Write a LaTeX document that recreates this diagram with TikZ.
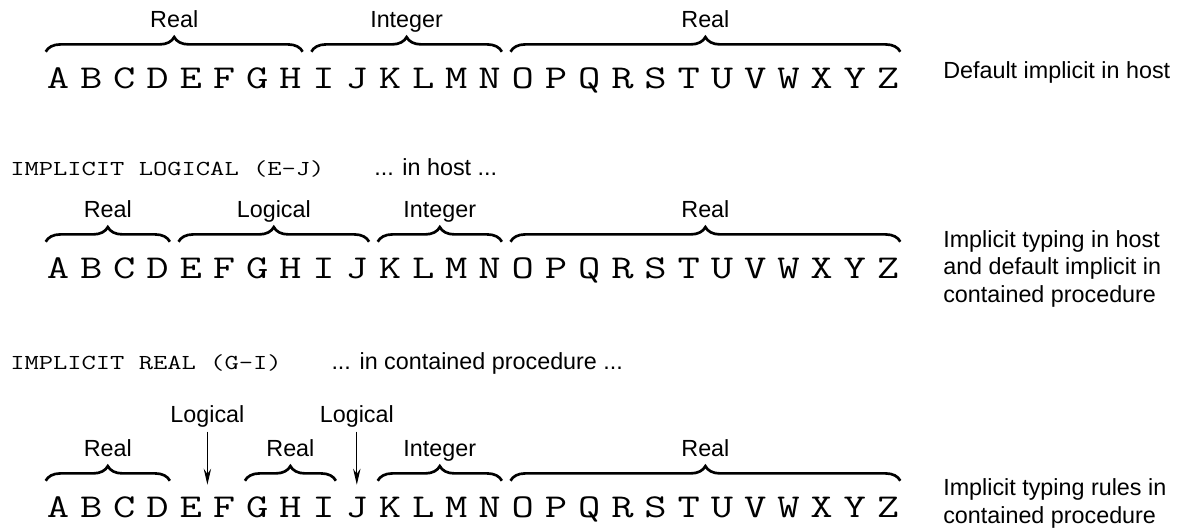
\documentclass[tikz,border=0pt]{standalone}
\usepackage{fontspec}
\setmainfont{Liberation Sans}
\usepackage{graphicx}
\usepackage{tikz}
\usetikzlibrary{arrows.meta, positioning, calc, decorations.pathreplacing}
\usepackage{xcolor}

% wide typewriter letters, as in the original figure
\newcommand{\wide}[1]{\scalebox{1.3}[1]{#1}}

\begin{document}
\begin{tikzpicture}[
x=0.75pt, y=-0.75pt,
letter/.style={font=\ttfamily\fontsize{25}{30}\selectfont,
inner sep=0pt,
anchor=base,
text height=15pt,
minimum width=18pt},
tag/.style={font=\fontsize{17.5}{21}\selectfont},
code/.style={font=\ttfamily\fontsize{16}{19}\selectfont,
inner sep=0pt,
anchor=base west},
note/.style={font=\fontsize{17.5}{20.6}\selectfont,
inner sep=0pt,
align=left,
anchor=base west},
brace/.style={decorate, decoration={brace, amplitude=11pt, raise=12pt}, line width=2pt},
arrow/.style={-{Stealth[length=12pt, width=5.5pt]}, line width=0.8pt} ]

\useasboundingbox (0,0) rectangle (1180,529);

% the three alphabets
\foreach \ch [count=\i from 0] in {A,...,Z} {
\node[letter] (r1-\ch) at (58+33.2*\i, 88) {\wide{\ch}};
\node[letter] (r2-\ch) at (58+33.2*\i, 278) {\wide{\ch}};
\node[letter] (r3-\ch) at (58+33.2*\i, 517) {\wide{\ch}};
}

% default implicit in host
\draw[brace] (r1-A.north west) -- (r1-H.north east) node[tag, midway, anchor=base, yshift=30.4pt] (r1-real1) {Real};
\draw[brace] (r1-I.north west) -- (r1-N.north east) node[tag, midway, anchor=base, yshift=30.4pt] (r1-int) {Integer};
\draw[brace] (r1-O.north west) -- (r1-Z.north east) node[tag, midway, anchor=base, yshift=30.4pt] (r1-real2) {Real};
\node[note] (note1) at (943,78) {Default implicit in host};

% implicit typing in host
\node[code] (impl1) at (10,175) {\wide{IMPLICIT LOGICAL (E-J)}};
\node[note, right=37pt of impl1.base east, anchor=base west] (host) {... in host ...};
\draw[brace] (r2-A.north west) -- (r2-D.north east) node[tag, midway, anchor=base, yshift=30.4pt] (r2-real1) {Real};
\draw[brace] (r2-E.north west) -- (r2-J.north east) node[tag, midway, anchor=base, yshift=30.4pt] (r2-log) {Logical};
\draw[brace] (r2-K.north west) -- (r2-N.north east) node[tag, midway, anchor=base, yshift=30.4pt] (r2-int) {Integer};
\draw[brace] (r2-O.north west) -- (r2-Z.north east) node[tag, midway, anchor=base, yshift=30.4pt] (r2-real2) {Real};
\node[note] (note2) at (943,302) {Implicit typing in host\\and default implicit in\\contained procedure};

% implicit typing in contained procedure
\node[code] (impl2) at (10,369) {\wide{IMPLICIT REAL (G-I)}};
\node[note, right=37pt of impl2.base east, anchor=base west] (proc) {... in contained procedure ...};
\draw[brace] (r3-A.north west) -- (r3-D.north east) node[tag, midway, anchor=base, yshift=30.4pt] (r3-real1) {Real};
\draw[brace] (r3-G.north west) -- (r3-I.north east) node[tag, midway, anchor=base, yshift=30.4pt] (r3-real2) {Real};
\draw[brace] (r3-K.north west) -- (r3-N.north east) node[tag, midway, anchor=base, yshift=30.4pt] (r3-int) {Integer};
\draw[brace] (r3-O.north west) -- (r3-Z.north east) node[tag, midway, anchor=base, yshift=30.4pt] (r3-real3) {Real};
\node[tag, anchor=base] (r3-log1) at ($(r3-E.base)!.5!(r3-F.base)+(0,-95)$) {Logical};
\node[tag, anchor=base] (r3-log2) at ($(r3-J.base)+(0,-95)$) {Logical};
\draw[arrow, shorten >=9pt] (r3-log1.south) -- (r3-log1.south |- r3-E.north);
\draw[arrow, shorten >=9pt] (r3-log2.south) -- (r3-log2.south |- r3-J.north);
\node[note] (note3) at (943,523) {Implicit typing rules in\\contained procedure};

\end{tikzpicture}
\end{document}
